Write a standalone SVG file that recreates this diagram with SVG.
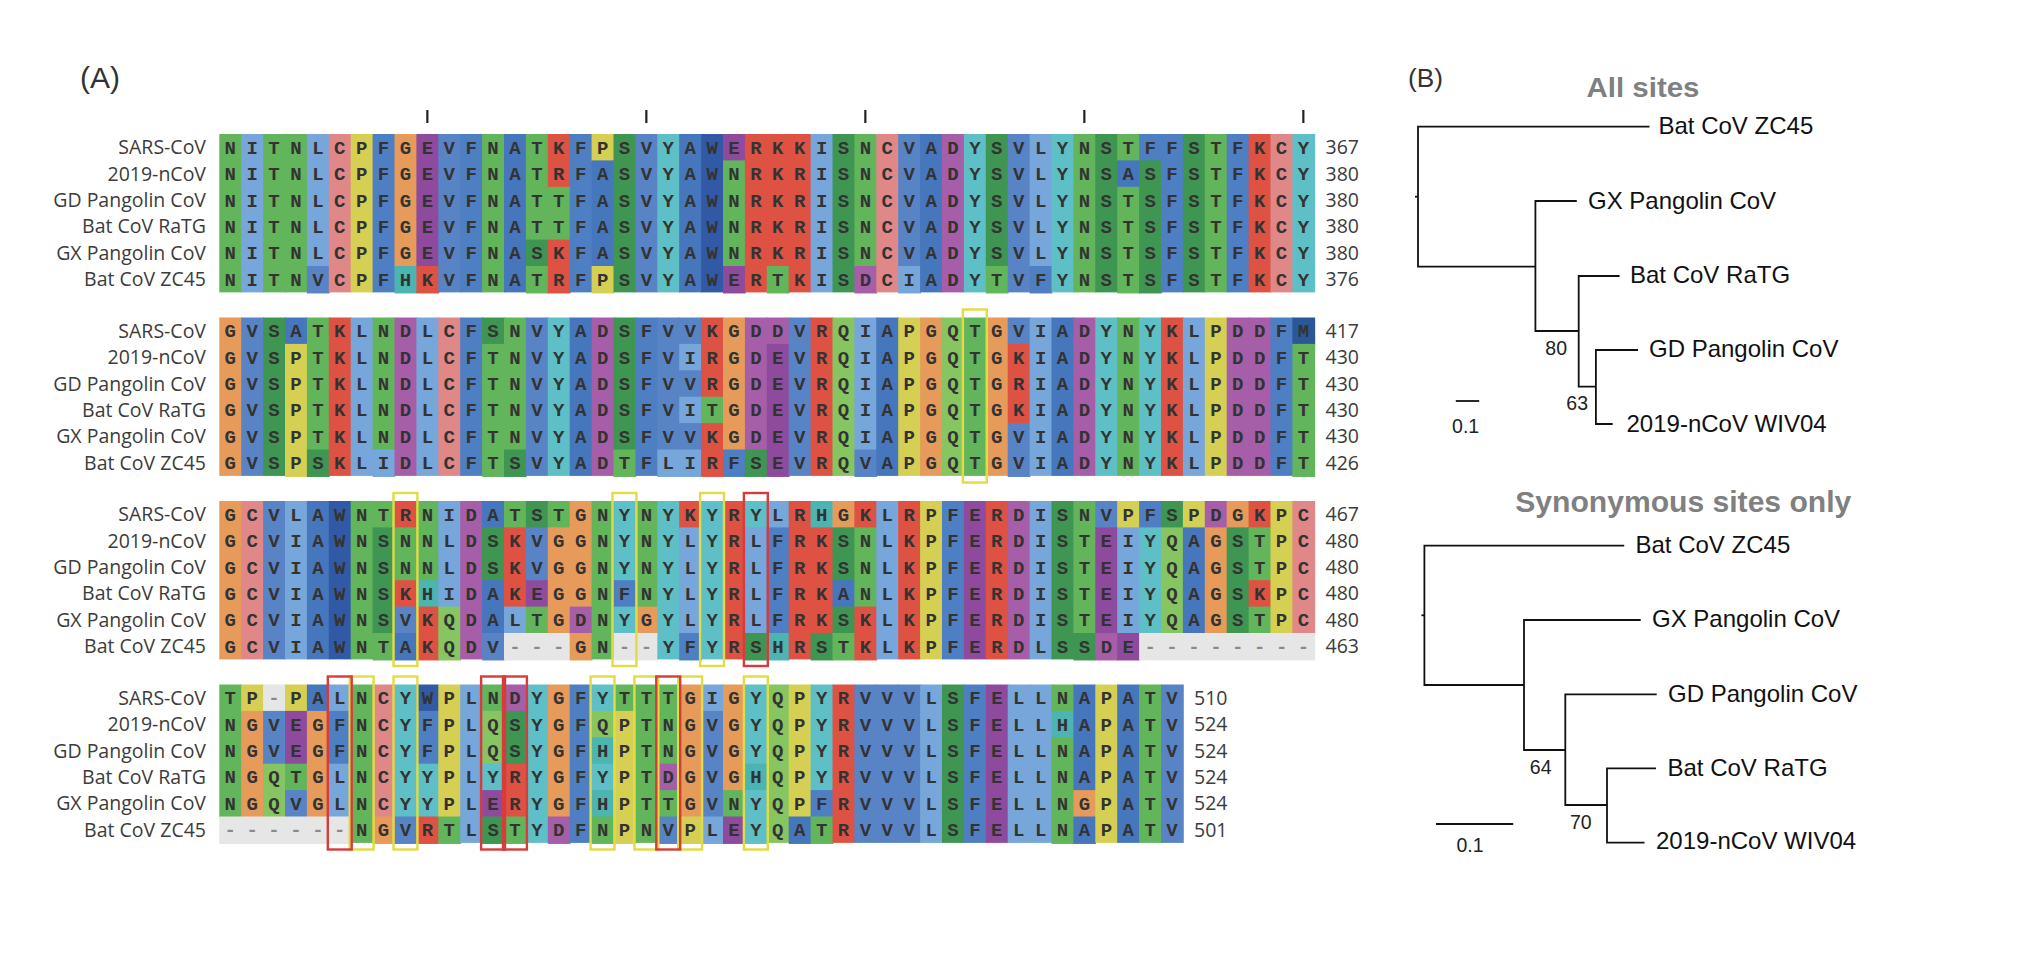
<svg xmlns="http://www.w3.org/2000/svg" width="2020" height="970" viewBox="0 0 2020 970">
<style>
.cl rect{width:1.04px;height:1.04px}
.cl .h2{height:2.04px}.cl .h3{height:3.04px}.cl .h4{height:4.04px}.cl .h5{height:5.04px}.cl .h6{height:6px}
.cl .w2{width:2.04px}.cl .w3{width:3.04px}.cl .w6{width:6.04px}.cl .w8{width:8.04px}
.g{fill:#63b55b}.q{fill:#86c561}.s{fill:#3e9652}.y{fill:#5ec0c6}.t{fill:#4cb4b1}.f{fill:#4f7fc3}.v{fill:#5884c6}.a{fill:#4676bc}.w{fill:#3259a6}.m{fill:#2c5797}.i{fill:#76a6da}.c{fill:#e08888}.p{fill:#d5d054}.o{fill:#e69b5a}.e{fill:#8e4b9e}.d{fill:#a65ea8}.r{fill:#de5243}.x{fill:#e6e6e6}
.sq{font-family:"Liberation Mono",monospace;font-weight:bold;font-size:19px;letter-spacing:10.5px;fill:#333}
.gp{fill:#8a8a8a}
.lb{font-family:"Open Sans",sans-serif;font-size:19.5px;fill:#3c3c3c;text-anchor:end}
.nm{font-family:"Open Sans",sans-serif;font-size:19.5px;fill:#3c3c3c}
.yb{fill:none;stroke:#e0dc45;stroke-width:2.4}
.rb{fill:none;stroke:#d83b3b;stroke-width:2.4}
.tk{stroke:#222;stroke-width:2.2}
.br{stroke:#111;stroke-width:1.8;fill:none}
.tl{font-family:"Liberation Sans",Arial,sans-serif;font-size:24px;fill:#111}
.bs{font-family:"Liberation Sans",Arial,sans-serif;font-size:19.5px;fill:#222}
.tt{font-family:"Liberation Sans",Arial,sans-serif;font-weight:bold;fill:#808080;text-anchor:middle}
.pl{font-family:"Liberation Sans",Arial,sans-serif;fill:#333}
</style>
<rect width="2020" height="970" fill="#fff"/>
<g id="panel-A-label"><text class="pl" x="80" y="87.5" font-size="30">(A)</text></g>
<g id="ticks">
<line class="tk" x1="427.35" y1="110" x2="427.35" y2="123"/>
<line class="tk" x1="646.35" y1="110" x2="646.35" y2="123"/>
<line class="tk" x1="865.35" y1="110" x2="865.35" y2="123"/>
<line class="tk" x1="1084.35" y1="110" x2="1084.35" y2="123"/>
<line class="tk" x1="1303.35" y1="110" x2="1303.35" y2="123"/>
</g>

<g id="block1" transform="translate(0 134)">
<g class="cl" transform="translate(219.3 0) scale(21.9 26.4)">
<rect x="0" class="g h6"/><rect x="1" class="i h6"/><rect x="2" class="g h6"/><rect x="3" class="g h6"/>
<rect x="4" class="i h5"/><rect x="4" y="5" class="v"/>
<rect x="5" class="c h6"/><rect x="6" class="p h6"/><rect x="7" class="f h6"/>
<rect x="8" class="o h5"/><rect x="8" y="5" class="t"/>
<rect x="9" class="e h5"/><rect x="9" y="5" class="r"/>
<rect x="10" class="v h6"/><rect x="11" class="f h6"/><rect x="12" class="g h6"/><rect x="13" class="a h6"/>
<rect x="14" class="g h4"/><rect x="14" y="4" class="s"/><rect x="14" y="5" class="g"/>
<rect x="15" class="r h2"/><rect x="15" y="2" class="g h2"/><rect x="15" y="4" class="r h2"/>
<rect x="16" class="f h6"/>
<rect x="17" class="p"/><rect x="17" y="1" class="a h4"/><rect x="17" y="5" class="p"/>
<rect x="18" class="s h6"/><rect x="19" class="v h6"/><rect x="20" class="y h6"/><rect x="21" class="a h6"/><rect x="22" class="w h6"/>
<rect x="23" class="e"/><rect x="23" y="1" class="g h4"/><rect x="23" y="5" class="e"/>
<rect x="24" class="r h6"/>
<rect x="25" class="r h5"/><rect x="25" y="5" class="g"/>
<rect x="26" class="r h6"/><rect x="27" class="i h6"/><rect x="28" class="s h6"/>
<rect x="29" class="g h5"/><rect x="29" y="5" class="d"/>
<rect x="30" class="c h6"/>
<rect x="31" class="v h5"/><rect x="31" y="5" class="i"/>
<rect x="32" class="a h6"/><rect x="33" class="d h6"/><rect x="34" class="y h6"/>
<rect x="35" class="s h5"/><rect x="35" y="5" class="g"/>
<rect x="36" class="v h6"/>
<rect x="37" class="i h5"/><rect x="37" y="5" class="f"/>
<rect x="38" class="y h6"/><rect x="39" class="g h6"/><rect x="40" class="s h6"/>
<rect x="41" class="g"/><rect x="41" y="1" class="a"/><rect x="41" y="2" class="g h4"/>
<rect x="42" class="f"/><rect x="42" y="1" class="s h5"/>
<rect x="43" class="f h6"/><rect x="44" class="s h6"/><rect x="45" class="g h6"/><rect x="46" class="f h6"/><rect x="47" class="r h6"/><rect x="48" class="c h6"/><rect x="49" class="y h6"/>
</g>
<text class="sq" x="224.55" y="19.7">NITNLCPFGEVFNATKFPSVYAWERKKISNCVADYSVLYNSTFFSTFKCY</text>
<text class="sq" x="224.55" y="46.1">NITNLCPFGEVFNATRFASVYAWNRKRISNCVADYSVLYNSASFSTFKCY</text>
<text class="sq" x="224.55" y="72.5">NITNLCPFGEVFNATTFASVYAWNRKRISNCVADYSVLYNSTSFSTFKCY</text>
<text class="sq" x="224.55" y="98.9">NITNLCPFGEVFNATTFASVYAWNRKRISNCVADYSVLYNSTSFSTFKCY</text>
<text class="sq" x="224.55" y="125.3">NITNLCPFGEVFNASKFASVYAWNRKRISNCVADYSVLYNSTSFSTFKCY</text>
<text class="sq" x="224.55" y="151.7">NITNVCPFHKVFNATRFPSVYAWERTKISDCIADYTVFYNSTSFSTFKCY</text>
<text class="lb" x="206" y="20.2">SARS-CoV</text>
<text class="lb" x="206" y="46.6">2019-nCoV</text>
<text class="lb" x="206" y="73">GD Pangolin CoV</text>
<text class="lb" x="206" y="99.4">Bat CoV RaTG</text>
<text class="lb" x="206" y="125.8">GX Pangolin CoV</text>
<text class="lb" x="206" y="152.2">Bat CoV ZC45</text>
<text class="nm" x="1325.5" y="20.2">367</text>
<text class="nm" x="1325.5" y="46.6">380</text>
<text class="nm" x="1325.5" y="73">380</text>
<text class="nm" x="1325.5" y="99.4">380</text>
<text class="nm" x="1325.5" y="125.8">380</text>
<text class="nm" x="1325.5" y="152.2">376</text>
</g>

<g id="block2" transform="translate(0 317.5)">
<g class="cl" transform="translate(219.3 0) scale(21.9 26.4)">
<rect x="0" class="o h6"/><rect x="1" class="v h6"/><rect x="2" class="s h6"/>
<rect x="3" class="a"/><rect x="3" y="1" class="p h5"/>
<rect x="4" class="g h5"/><rect x="4" y="5" class="s"/>
<rect x="5" class="r h6"/><rect x="6" class="i h6"/>
<rect x="7" class="g h5"/><rect x="7" y="5" class="i"/>
<rect x="8" class="d h6"/><rect x="9" class="i h6"/><rect x="10" class="c h6"/><rect x="11" class="f h6"/>
<rect x="12" class="s"/><rect x="12" y="1" class="g h5"/>
<rect x="13" class="g h5"/><rect x="13" y="5" class="s"/>
<rect x="14" class="v h6"/><rect x="15" class="y h6"/><rect x="16" class="a h6"/><rect x="17" class="d h6"/>
<rect x="18" class="s h5"/><rect x="18" y="5" class="g"/>
<rect x="19" class="f h6"/>
<rect x="20" class="v h5"/><rect x="20" y="5" class="i"/>
<rect x="21" class="v"/><rect x="21" y="1" class="i"/><rect x="21" y="2" class="v"/><rect x="21" y="3" class="i"/><rect x="21" y="4" class="v"/><rect x="21" y="5" class="i"/>
<rect x="22" class="r h3"/><rect x="22" y="3" class="g"/><rect x="22" y="4" class="r h2"/>
<rect x="23" class="o h5"/><rect x="23" y="5" class="f"/>
<rect x="24" class="d h5"/><rect x="24" y="5" class="s"/>
<rect x="25" class="d"/><rect x="25" y="1" class="e h5"/>
<rect x="26" class="v h6"/><rect x="27" class="r h6"/><rect x="28" class="q h6"/>
<rect x="29" class="i h5"/><rect x="29" y="5" class="v"/>
<rect x="30" class="a h6"/><rect x="31" class="p h6"/><rect x="32" class="o h6"/><rect x="33" class="q h6"/><rect x="34" class="g h6"/><rect x="35" class="o h6"/>
<rect x="36" class="v"/><rect x="36" y="1" class="r h3"/><rect x="36" y="4" class="v h2"/>
<rect x="37" class="i h6"/><rect x="38" class="a h6"/><rect x="39" class="d h6"/><rect x="40" class="y h6"/><rect x="41" class="g h6"/><rect x="42" class="y h6"/><rect x="43" class="r h6"/><rect x="44" class="i h6"/><rect x="45" class="p h6"/><rect x="46" class="d h6"/><rect x="47" class="d h6"/><rect x="48" class="f h6"/>
<rect x="49" class="m"/><rect x="49" y="1" class="g h5"/>
</g>
<text class="sq" x="224.55" y="19.7">GVSATKLNDLCFSNVYADSFVVKGDDVRQIAPGQTGVIADYNYKLPDDFM</text>
<text class="sq" x="224.55" y="46.1">GVSPTKLNDLCFTNVYADSFVIRGDEVRQIAPGQTGKIADYNYKLPDDFT</text>
<text class="sq" x="224.55" y="72.5">GVSPTKLNDLCFTNVYADSFVVRGDEVRQIAPGQTGRIADYNYKLPDDFT</text>
<text class="sq" x="224.55" y="98.9">GVSPTKLNDLCFTNVYADSFVITGDEVRQIAPGQTGKIADYNYKLPDDFT</text>
<text class="sq" x="224.55" y="125.3">GVSPTKLNDLCFTNVYADSFVVKGDEVRQIAPGQTGVIADYNYKLPDDFT</text>
<text class="sq" x="224.55" y="151.7">GVSPSKLIDLCFTSVYADTFLIRFSEVRQVAPGQTGVIADYNYKLPDDFT</text>
<text class="lb" x="206" y="20.2">SARS-CoV</text>
<text class="lb" x="206" y="46.6">2019-nCoV</text>
<text class="lb" x="206" y="73">GD Pangolin CoV</text>
<text class="lb" x="206" y="99.4">Bat CoV RaTG</text>
<text class="lb" x="206" y="125.8">GX Pangolin CoV</text>
<text class="lb" x="206" y="152.2">Bat CoV ZC45</text>
<text class="nm" x="1325.5" y="20.2">417</text>
<text class="nm" x="1325.5" y="46.6">430</text>
<text class="nm" x="1325.5" y="73">430</text>
<text class="nm" x="1325.5" y="99.4">430</text>
<text class="nm" x="1325.5" y="125.8">430</text>
<text class="nm" x="1325.5" y="152.2">426</text>
<rect class="yb" x="962.9" y="-8" width="23.9" height="173"/>
</g>

<g id="block3" transform="translate(0 501)">
<g class="cl" transform="translate(219.3 0) scale(21.9 26.4)">
<rect x="0" class="o h6"/><rect x="1" class="c h6"/><rect x="2" class="v h6"/><rect x="3" class="i h6"/><rect x="4" class="a h6"/><rect x="5" class="w h6"/><rect x="6" class="g h6"/>
<rect x="7" class="g"/><rect x="7" y="1" class="s h4"/><rect x="7" y="5" class="g"/>
<rect x="8" class="r"/><rect x="8" y="1" class="g h2"/><rect x="8" y="3" class="r"/><rect x="8" y="4" class="v"/><rect x="8" y="5" class="a"/>
<rect x="9" class="g h3"/><rect x="9" y="3" class="t"/><rect x="9" y="4" class="r h2"/>
<rect x="10" class="i h4"/><rect x="10" y="4" class="q h2"/>
<rect x="11" class="d h6"/>
<rect x="12" class="a"/><rect x="12" y="1" class="s h2"/><rect x="12" y="3" class="a h2"/><rect x="12" y="5" class="v"/>
<rect x="13" class="g"/><rect x="13" y="1" class="r h3"/><rect x="13" y="4" class="i"/>
<rect x="14" class="s"/><rect x="14" y="1" class="v h2"/><rect x="14" y="3" class="e"/><rect x="14" y="4" class="g"/>
<rect x="15" class="g"/><rect x="15" y="1" class="o h4"/>
<rect x="13" y="5" class="x w3"/>
<rect x="16" class="o h4"/><rect x="16" y="4" class="d"/><rect x="16" y="5" class="o"/>
<rect x="17" class="g h6"/>
<rect x="18" class="y h3"/><rect x="18" y="3" class="f"/><rect x="18" y="4" class="y"/>
<rect x="19" class="g h4"/><rect x="19" y="4" class="o"/>
<rect x="18" y="5" class="x w2"/>
<rect x="20" class="y h6"/>
<rect x="21" class="r"/><rect x="21" y="1" class="i h4"/><rect x="21" y="5" class="f"/>
<rect x="22" class="y h6"/><rect x="23" class="r h6"/>
<rect x="24" class="y"/><rect x="24" y="1" class="i h4"/><rect x="24" y="5" class="s"/>
<rect x="25" class="i"/><rect x="25" y="1" class="f h4"/><rect x="25" y="5" class="t"/>
<rect x="26" class="r h6"/>
<rect x="27" class="t"/><rect x="27" y="1" class="r h4"/><rect x="27" y="5" class="s"/>
<rect x="28" class="o"/><rect x="28" y="1" class="s h2"/><rect x="28" y="3" class="a"/><rect x="28" y="4" class="s"/><rect x="28" y="5" class="g"/>
<rect x="29" class="r"/><rect x="29" y="1" class="g h3"/><rect x="29" y="4" class="r h2"/>
<rect x="30" class="i h6"/><rect x="31" class="r h6"/><rect x="32" class="p h6"/><rect x="33" class="f h6"/><rect x="34" class="e h6"/><rect x="35" class="r h6"/><rect x="36" class="d h6"/><rect x="37" class="i h6"/><rect x="38" class="s h6"/>
<rect x="39" class="g h5"/><rect x="39" y="5" class="s"/>
<rect x="40" class="v"/><rect x="40" y="1" class="e h4"/><rect x="40" y="5" class="d"/>
<rect x="41" class="p"/><rect x="41" y="1" class="i h4"/><rect x="41" y="5" class="e"/>
<rect x="42" class="f"/><rect x="42" y="1" class="y h4"/>
<rect x="43" class="s"/><rect x="43" y="1" class="q h4"/>
<rect x="44" class="p"/><rect x="44" y="1" class="a h4"/>
<rect x="45" class="d"/><rect x="45" y="1" class="o h4"/>
<rect x="46" class="o"/><rect x="46" y="1" class="s h4"/>
<rect x="47" class="r"/><rect x="47" y="1" class="g h2"/><rect x="47" y="3" class="r"/><rect x="47" y="4" class="g"/>
<rect x="48" class="p h5"/><rect x="49" class="c h5"/>
<rect x="42" y="5" class="x w8"/>
</g>
<text class="sq" x="224.55" y="19.7">GCVLAWNTRNIDATSTGNYNYKYRYLRHGKLRPFERDISNVPFSPDGKPC</text>
<text class="sq" x="224.55" y="46.1">GCVIAWNSNNLDSKVGGNYNYLYRLFRKSNLKPFERDISTEIYQAGSTPC</text>
<text class="sq" x="224.55" y="72.5">GCVIAWNSNNLDSKVGGNYNYLYRLFRKSNLKPFERDISTEIYQAGSTPC</text>
<text class="sq" x="224.55" y="98.9">GCVIAWNSKHIDAKEGGNFNYLYRLFRKANLKPFERDISTEIYQAGSKPC</text>
<text class="sq" x="224.55" y="125.3">GCVIAWNSVKQDALTGDNYGYLYRLFRKSKLKPFERDISTEIYQAGSTPC</text>
<text class="sq" x="224.55" y="151.7">GCVIAWNTAKQDV<tspan class="gp">---</tspan>GN<tspan class="gp">--</tspan>YFYRSHRSTKLKPFERDLSSDE<tspan class="gp">--------</tspan></text>
<text class="lb" x="206" y="20.2">SARS-CoV</text>
<text class="lb" x="206" y="46.6">2019-nCoV</text>
<text class="lb" x="206" y="73">GD Pangolin CoV</text>
<text class="lb" x="206" y="99.4">Bat CoV RaTG</text>
<text class="lb" x="206" y="125.8">GX Pangolin CoV</text>
<text class="lb" x="206" y="152.2">Bat CoV ZC45</text>
<text class="nm" x="1325.5" y="20.2">467</text>
<text class="nm" x="1325.5" y="46.6">480</text>
<text class="nm" x="1325.5" y="73">480</text>
<text class="nm" x="1325.5" y="99.4">480</text>
<text class="nm" x="1325.5" y="125.8">480</text>
<text class="nm" x="1325.5" y="152.2">463</text>
<rect class="yb" x="393.5" y="-8" width="23.9" height="173"/>
<rect class="yb" x="612.5" y="-8" width="23.9" height="173"/>
<rect class="yb" x="700.1" y="-8" width="23.9" height="173"/>
<rect class="rb" x="743.9" y="-8" width="23.9" height="173"/>
</g>

<g id="block4" transform="translate(0 684.5)">
<g class="cl" transform="translate(219.3 0) scale(21.9 26.4)">
<rect x="0" class="g h5"/>
<rect x="1" class="p"/><rect x="1" y="1" class="o h4"/>
<rect x="2" class="x"/><rect x="2" y="1" class="v h2"/><rect x="2" y="3" class="q h2"/>
<rect x="3" class="p"/><rect x="3" y="1" class="e h2"/><rect x="3" y="3" class="g"/><rect x="3" y="4" class="v"/>
<rect x="4" class="a"/><rect x="4" y="1" class="o h4"/>
<rect x="5" class="i"/><rect x="5" y="1" class="f h2"/><rect x="5" y="3" class="i h2"/>
<rect x="0" y="5" class="x w6"/>
<rect x="6" class="g h6"/>
<rect x="7" class="c h5"/><rect x="7" y="5" class="o"/>
<rect x="8" class="y h5"/><rect x="8" y="5" class="v"/>
<rect x="9" class="w"/><rect x="9" y="1" class="f h2"/><rect x="9" y="3" class="y h2"/><rect x="9" y="5" class="r"/>
<rect x="10" class="p h5"/><rect x="10" y="5" class="g"/>
<rect x="11" class="i h6"/>
<rect x="12" class="g"/><rect x="12" y="1" class="q h2"/><rect x="12" y="3" class="y"/><rect x="12" y="4" class="e"/><rect x="12" y="5" class="s"/>
<rect x="13" class="d"/><rect x="13" y="1" class="s h2"/><rect x="13" y="3" class="r h2"/><rect x="13" y="5" class="g"/>
<rect x="14" class="y h6"/>
<rect x="15" class="o h5"/><rect x="15" y="5" class="d"/>
<rect x="16" class="f h6"/>
<rect x="17" class="y"/><rect x="17" y="1" class="q"/><rect x="17" y="2" class="t"/><rect x="17" y="3" class="y"/><rect x="17" y="4" class="t"/><rect x="17" y="5" class="g"/>
<rect x="18" class="g"/><rect x="18" y="1" class="p h5"/>
<rect x="19" class="g h6"/>
<rect x="20" class="g h3"/><rect x="20" y="3" class="d"/><rect x="20" y="4" class="g"/><rect x="20" y="5" class="v"/>
<rect x="21" class="o h5"/><rect x="21" y="5" class="p"/>
<rect x="22" class="i"/><rect x="22" y="1" class="v h4"/><rect x="22" y="5" class="i"/>
<rect x="23" class="o h4"/><rect x="23" y="4" class="g"/><rect x="23" y="5" class="e"/>
<rect x="24" class="y h3"/><rect x="24" y="3" class="t"/><rect x="24" y="4" class="y h2"/>
<rect x="25" class="q h6"/>
<rect x="26" class="p h5"/><rect x="26" y="5" class="a"/>
<rect x="27" class="y h4"/><rect x="27" y="4" class="f"/><rect x="27" y="5" class="g"/>
<rect x="28" class="r h6"/><rect x="29" class="v h6"/><rect x="30" class="v h6"/><rect x="31" class="v h6"/><rect x="32" class="i h6"/><rect x="33" class="s h6"/><rect x="34" class="f h6"/><rect x="35" class="e h6"/><rect x="36" class="i h6"/><rect x="37" class="i h6"/>
<rect x="38" class="g"/><rect x="38" y="1" class="t"/><rect x="38" y="2" class="g h4"/>
<rect x="39" class="a h4"/><rect x="39" y="4" class="o"/><rect x="39" y="5" class="a"/>
<rect x="40" class="p h6"/><rect x="41" class="a h6"/><rect x="42" class="g h6"/><rect x="43" class="v h6"/>
</g>
<text class="sq" x="224.55" y="19.7">TP<tspan class="gp">-</tspan>PALNCYWPLNDYGFYTTTGIGYQPYRVVVLSFELLNAPATV</text>
<text class="sq" x="224.55" y="46.1">NGVEGFNCYFPLQSYGFQPTNGVGYQPYRVVVLSFELLHAPATV</text>
<text class="sq" x="224.55" y="72.5">NGVEGFNCYFPLQSYGFHPTNGVGYQPYRVVVLSFELLNAPATV</text>
<text class="sq" x="224.55" y="98.9">NGQTGLNCYYPLYRYGFYPTDGVGHQPYRVVVLSFELLNAPATV</text>
<text class="sq" x="224.55" y="125.3">NGQVGLNCYYPLERYGFHPTTGVNYQPFRVVVLSFELLNGPATV</text>
<text class="sq" x="224.55" y="151.7"><tspan class="gp">------</tspan>NGVRTLSTYDFNPNVPLEYQATRVVVLSFELLNAPATV</text>
<text class="lb" x="206" y="20.2">SARS-CoV</text>
<text class="lb" x="206" y="46.6">2019-nCoV</text>
<text class="lb" x="206" y="73">GD Pangolin CoV</text>
<text class="lb" x="206" y="99.4">Bat CoV RaTG</text>
<text class="lb" x="206" y="125.8">GX Pangolin CoV</text>
<text class="lb" x="206" y="152.2">Bat CoV ZC45</text>
<text class="nm" x="1194" y="20.2">510</text>
<text class="nm" x="1194" y="46.6">524</text>
<text class="nm" x="1194" y="73">524</text>
<text class="nm" x="1194" y="99.4">524</text>
<text class="nm" x="1194" y="125.8">524</text>
<text class="nm" x="1194" y="152.2">501</text>
<rect class="yb" x="349.7" y="-8" width="23.9" height="173"/>
<rect class="yb" x="393.5" y="-8" width="23.9" height="173"/>
<rect class="yb" x="590.6" y="-8" width="23.9" height="173"/>
<rect class="yb" x="634.4" y="-8" width="23.9" height="173"/>
<rect class="yb" x="678.2" y="-8" width="23.9" height="173"/>
<rect class="yb" x="743.9" y="-8" width="23.9" height="173"/>
<rect class="rb" x="327.8" y="-8" width="23.9" height="173"/>
<rect class="rb" x="481.1" y="-8" width="23.9" height="173"/>
<rect class="rb" x="503" y="-8" width="23.9" height="173"/>
<rect class="rb" x="656.3" y="-8" width="23.9" height="173"/>
</g>

<g id="panel-B-label"><text class="pl" x="1408" y="86.5" font-size="26" textLength="35" lengthAdjust="spacingAndGlyphs">(B)</text></g>

<g id="tree-all-sites">
<g id="tree1-title"><text class="tt" x="1643" y="97" font-size="27" textLength="113" lengthAdjust="spacingAndGlyphs">All sites</text></g>
<g id="tree1-connectors">
<path class="br" d="M1415 196.7H1418"/>
<path class="br" d="M1649.5 126.7H1418V266.7H1535.4"/>
<path class="br" d="M1576.8 201H1535.4V331H1578.7"/>
<path class="br" d="M1619.6 276H1578.7V386.7H1595.9"/>
<path class="br" d="M1638 350H1595.9V424H1612.7"/>
<path class="br" d="M1455.8 401H1479.2"/>
</g>
<g id="t1-zc45"><text class="tl" x="1658.5" y="133.8">Bat CoV ZC45</text></g>
<g id="t1-gx"><text class="tl" x="1588" y="208.8">GX Pangolin CoV</text></g>
<g id="t1-ratg"><text class="tl" x="1630" y="282.8">Bat CoV RaTG</text></g>
<g id="t1-gd"><text class="tl" x="1649" y="356.5">GD Pangolin CoV</text></g>
<g id="t1-ncov"><text class="tl" x="1626.5" y="431.5">2019-nCoV WIV04</text></g>
<g id="t1-bs80"><text class="bs" x="1567" y="354.7" text-anchor="end">80</text></g>
<g id="t1-bs63"><text class="bs" x="1588" y="410.3" text-anchor="end">63</text></g>
<g id="t1-scale"><text class="bs" x="1465.6" y="433" text-anchor="middle">0.1</text></g>
</g>

<g id="tree-synonymous">
<g id="tree2-title"><text class="tt" x="1683.3" y="511.5" font-size="30" textLength="336" lengthAdjust="spacingAndGlyphs">Synonymous sites only</text></g>
<g id="tree2-connectors">
<path class="br" d="M1421.4 615.3H1424.4"/>
<path class="br" d="M1624.2 545.7H1424.4V685H1524"/>
<path class="br" d="M1640.7 620H1524V750H1565.3"/>
<path class="br" d="M1656.7 694.3H1565.3V805H1607"/>
<path class="br" d="M1656 768.3H1607V842.7H1644.5"/>
<path class="br" d="M1436 824H1513.2"/>
</g>
<g id="t2-zc45"><text class="tl" x="1635.5" y="553.1">Bat CoV ZC45</text></g>
<g id="t2-gx"><text class="tl" x="1652" y="627.1">GX Pangolin CoV</text></g>
<g id="t2-gd"><text class="tl" x="1668" y="701.5">GD Pangolin CoV</text></g>
<g id="t2-ratg"><text class="tl" x="1667.5" y="775.5">Bat CoV RaTG</text></g>
<g id="t2-ncov"><text class="tl" x="1656" y="848.8">2019-nCoV WIV04</text></g>
<g id="t2-bs64"><text class="bs" x="1551.5" y="773.7" text-anchor="end">64</text></g>
<g id="t2-bs70"><text class="bs" x="1591.7" y="828.7" text-anchor="end">70</text></g>
<g id="t2-scale"><text class="bs" x="1470" y="852" text-anchor="middle">0.1</text></g>
</g>
</svg>
